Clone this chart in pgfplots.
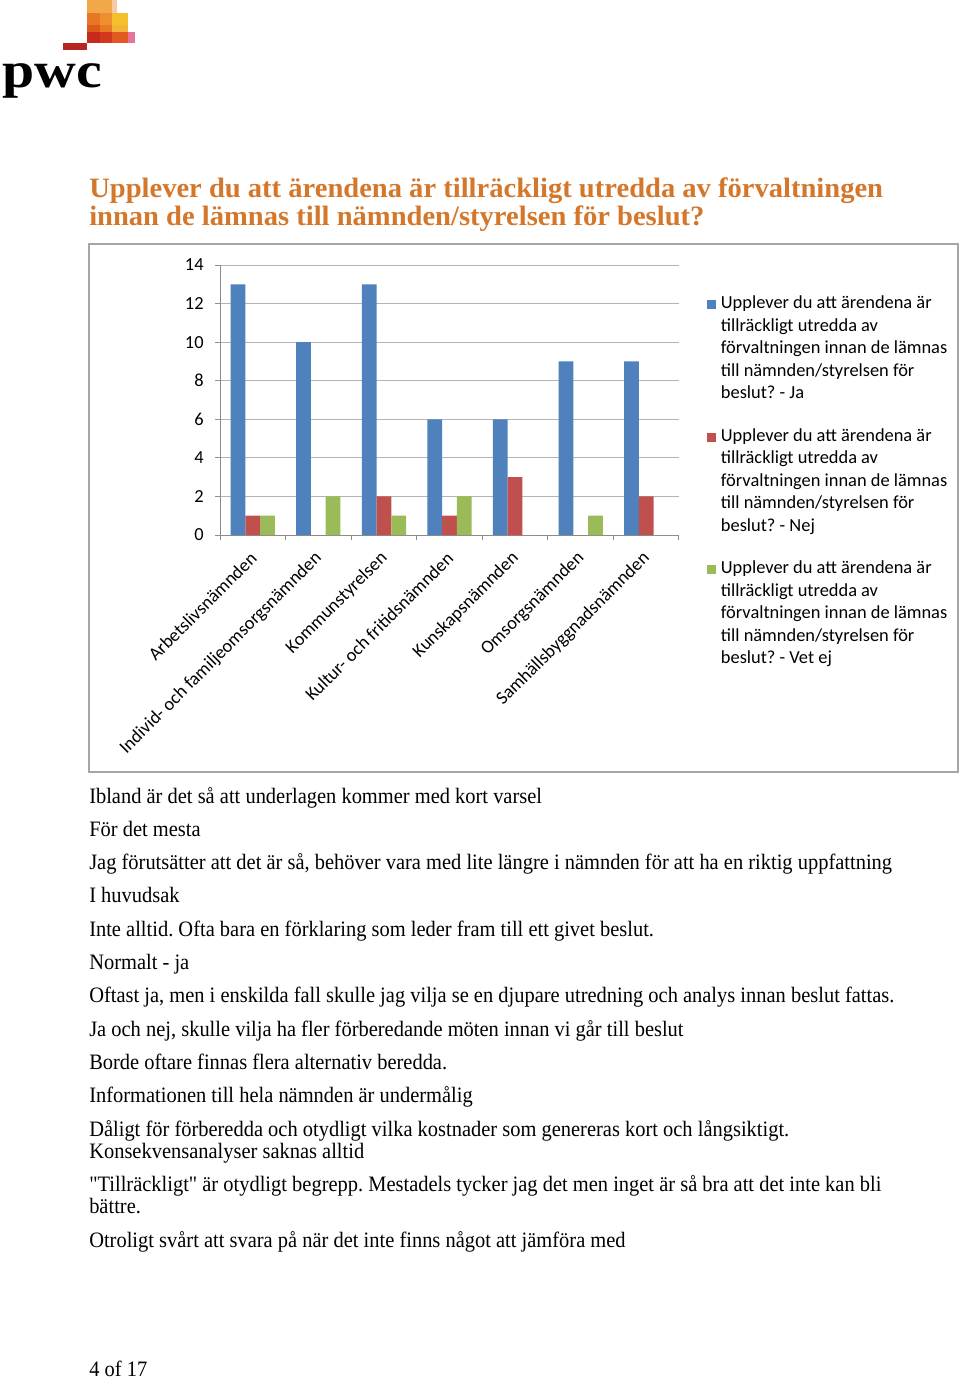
\documentclass[border=0pt]{standalone}
\usepackage{fontspec}
\usepackage{pgfplots}
\usepackage{pgfplotstable}
\pgfplotsset{compat=1.18}
\setmainfont{Liberation Serif}
\newfontfamily\bodyfont[FakeStretch=0.93]{Liberation Serif}
\newfontfamily\titlefont[FakeStretch=1.02]{Liberation Serif}
\newfontfamily\logofont[FakeStretch=1.14]{Liberation Serif}
\newfontfamily\chartfont{Carlito}
\frenchspacing

\definecolor{ja}{HTML}{4F81BD}
\definecolor{nej}{HTML}{C0504D}
\definecolor{vetej}{HTML}{9BBB59}
\definecolor{pwcorange}{HTML}{D4772B}
\definecolor{gridgray}{HTML}{B4B4B4}
\definecolor{axisgray}{HTML}{8C8C8C}
\definecolor{framegray}{HTML}{A6A6A6}

\pgfplotsset{sqlegend/.style={legend image code/.code={%
  \fill[##1] (0pt,-10.3pt) rectangle (6.75pt,-3.6pt);}}}

% antal svar per nämnd: Ja, Nej, Vet ej
\pgfplotstableread{
cat ja nej vetej
0 13 1 1
1 10 0 2
2 13 2 1
3 6 1 2
4 6 3 0
5 9 0 1
6 9 2 0
}\svar

\newcommand\bodyline[2]{\node[anchor=base west, inner sep=0pt,
  font=\bodyfont\fontsize{16.5}{20}\selectfont] at (89,#1) {#2};}

\begin{document}
\begin{tikzpicture}
\useasboundingbox (0,0) rectangle (720pt,-1035pt);
\fill[white] (0,0) rectangle (720pt,-1035pt);

\begin{scope}[x=0.75pt,y=-0.75pt]
% logo
\fill[fill={rgb,255:red,242;green,168;blue,72}] (87.3,0) rectangle (111.7,12.7);
\fill[fill={rgb,255:red,248;green,200;blue,170}] (111.7,0) rectangle (116.7,12.7);
\fill[fill={rgb,255:red,233;green,118;blue,37}] (87.3,12.7) rectangle (100,25);
\fill[fill={rgb,255:red,238;green,143;blue,47}] (100,12.7) rectangle (111.7,25);
\fill[fill={rgb,255:red,245;green,190;blue,43}] (111.7,12.7) rectangle (128.3,25);
\fill[fill={rgb,255:red,219;green,91;blue,28}] (87.3,25) rectangle (100,31.7);
\fill[fill={rgb,255:red,232;green,122;blue,38}] (100,25) rectangle (111.7,31.7);
\fill[fill={rgb,255:red,242;green,180;blue,58}] (111.7,25) rectangle (128.3,31.7);
\fill[fill={rgb,255:red,199;green,42;blue,28}] (87.3,31.7) rectangle (100,43.3);
\fill[fill={rgb,255:red,211;green,56;blue,30}] (100,31.7) rectangle (111.7,43.3);
\fill[fill={rgb,255:red,226;green,90;blue,34}] (111.7,31.7) rectangle (128.3,43.3);
\fill[fill={rgb,255:red,229;green,115;blue,156}] (128.3,31.7) rectangle (135,43.3);
\fill[fill={rgb,255:red,181;green,38;blue,30}] (62.7,43.3) rectangle (87.3,50);
\node[anchor=base west, inner sep=0pt, font=\logofont\bfseries\fontsize{38}{38}\selectfont] at (2,88) {pwc};

% rubrik
\node[anchor=base west, inner sep=0pt, text=pwcorange, font=\titlefont\bfseries\fontsize{21}{25}\selectfont]
  at (89,197.5) {Upplever du att ärendena är tillräckligt utredda av förvaltningen};
\node[anchor=base west, inner sep=0pt, text=pwcorange, font=\titlefont\bfseries\fontsize{21}{25}\selectfont]
  at (89,226) {innan de lämnas till nämnden/styrelsen för beslut?};

% diagramram
\draw[framegray, line width=1.5pt] (89,244) rectangle (958,772);

% kommentarer
\bodyline{803}{Ibland är det så att underlagen kommer med kort varsel}
\bodyline{836}{För det mesta}
\bodyline{869}{Jag förutsätter att det är så, behöver vara med lite längre i nämnden för att ha en riktig uppfattning}
\bodyline{902}{I huvudsak}
\bodyline{936}{Inte alltid. Ofta bara en förklaring som leder fram till ett givet beslut.}
\bodyline{969}{Normalt - ja}
\bodyline{1002}{Oftast ja, men i enskilda fall skulle jag vilja se en djupare utredning och analys innan beslut fattas.}
\bodyline{1036}{Ja och nej, skulle vilja ha fler förberedande möten innan vi går till beslut}
\bodyline{1069}{Borde oftare finnas flera alternativ beredda.}
\bodyline{1102}{Informationen till hela nämnden är undermålig}
\bodyline{1136}{Dåligt för förberedda och otydligt vilka kostnader som genereras kort och långsiktigt.}
\bodyline{1158}{Konsekvensanalyser saknas alltid}
\bodyline{1191}{"Tillräckligt" är otydligt begrepp. Mestadels tycker jag det men inget är så bra att det inte kan bli}
\bodyline{1213}{bättre.}
\bodyline{1247}{Otroligt svårt att svara på när det inte finns något att jämföra med}
\bodyline{1376}{4 of 17}
\end{scope}

\begin{axis}[
  at={(165pt,-401.25pt)}, anchor=south west,
  scale only axis, width=344.25pt, height=202.5pt,
  xmin=-0.5, xmax=6.5, ymin=0, ymax=14,
  ybar=0pt, bar width=0.225,
  axis x line*=bottom, axis y line*=left,
  axis line style={axisgray, line width=0.75pt, -},
  ytick={0,2,...,14}, ymajorgrids,
  grid style={gridgray, line width=0.75pt},
  xtick={0,...,6},
  xticklabels={Arbetslivsnämnden, Individ- och familjeomsorgsnämnden, Kommunstyrelsen,
    Kultur- och fritidsnämnden, Kunskapsnämnden, Omsorgsnämnden, Samhällsbyggnadsnämnden},
  minor xtick={-0.5,0.5,...,6.5},
  tick align=outside, major tick length=3.75pt, minor tick length=3.75pt,
  every major x tick/.append style={draw=none},
  tick style={axisgray, line width=0.75pt},
  ticklabel style={font=\chartfont\fontsize{13.8}{16}\selectfont, text=black},
  /pgf/number format/assume math mode=true,
  xticklabel style={yshift=-10pt, xshift=2pt, rotate=45, anchor=east, inner sep=2pt},
  yticklabel style={xshift=-5pt},
  legend style={at={(1.061,0.888)}, anchor=north west, draw=none, fill=none,
    inner sep=0pt, column sep=3.5pt, row sep=20.5pt,
    font=\chartfont\fontsize{13.8}{16.9}\selectfont,
    nodes={inner sep=0pt}, cells={anchor=north west, align=left}},
]
\addplot[fill=ja, draw=none, sqlegend] table[x=cat, y=ja] {\svar};
\addplot[fill=nej, draw=none, sqlegend] table[x=cat, y=nej] {\svar};
\addplot[fill=vetej, draw=none, sqlegend] table[x=cat, y=vetej] {\svar};
\legend{{Upplever du att ärendena är\\tillräckligt utredda av\\förvaltningen innan de lämnas\\till nämnden/styrelsen för\\beslut? - Ja},
  {Upplever du att ärendena är\\tillräckligt utredda av\\förvaltningen innan de lämnas\\till nämnden/styrelsen för\\beslut? - Nej},
  {Upplever du att ärendena är\\tillräckligt utredda av\\förvaltningen innan de lämnas\\till nämnden/styrelsen för\\beslut? - Vet ej}}
\end{axis}
\end{tikzpicture}
\end{document}
